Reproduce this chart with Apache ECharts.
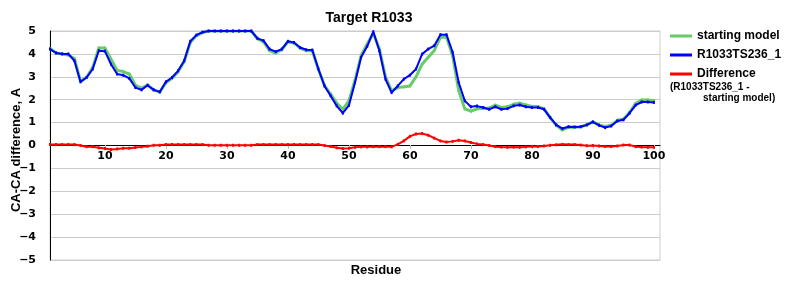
<!DOCTYPE html>
<html>
<head>
<meta charset="utf-8">
<script src="https://cdn.jsdelivr.net/npm/echarts@6/dist/echarts.min.js"></script>
<style>
html,body{margin:0;padding:0;background:#fff;}
#chart{width:800px;height:300px;}
</style>
</head>
<body>
<div id="chart"></div>
<script>
var title = 'Target R1033';
var xTicks = [10,20,30,40,50,60,70,80,90,100];
var startingModel = [4.24,4.04,4.0,3.95,3.8,2.8,2.98,3.4,4.26,4.26,
  3.77,3.28,3.23,3.12,2.63,2.5,2.64,2.43,2.33,2.74,
  2.93,3.22,3.66,4.5,4.8,4.93,5.0,5.0,5.0,5.0,
  5.0,5.0,5.0,5.0,4.66,4.52,4.14,4.04,4.18,4.53,
  4.48,4.25,4.14,4.14,3.32,2.62,2.24,1.85,1.58,1.95,
  2.85,3.93,4.43,4.9,4.21,3.0,2.39,2.53,2.56,2.6,
  3.0,3.55,3.85,4.15,4.72,4.74,3.93,2.4,1.6,1.5,
  1.6,1.63,1.63,1.76,1.66,1.69,1.8,1.85,1.77,1.7,
  1.7,1.6,1.22,0.88,0.68,0.8,0.8,0.82,0.9,1.03,
  0.9,0.83,0.88,1.1,1.15,1.44,1.83,1.99,1.99,1.96];
var model = [4.21,4.04,4.0,4.0,3.7,2.78,2.97,3.34,4.14,4.12,
  3.55,3.12,3.07,2.93,2.53,2.43,2.63,2.43,2.34,2.78,
  2.97,3.26,3.7,4.55,4.82,4.95,5.0,5.0,5.0,5.0,
  5.0,5.0,5.0,5.0,4.68,4.58,4.21,4.1,4.21,4.55,
  4.5,4.28,4.18,4.17,3.34,2.6,2.17,1.73,1.41,1.75,
  2.75,3.85,4.33,4.97,4.14,2.9,2.31,2.6,2.9,3.07,
  3.34,3.99,4.21,4.36,4.84,4.84,4.07,2.75,1.95,1.69,
  1.72,1.66,1.58,1.69,1.58,1.61,1.73,1.77,1.69,1.66,
  1.66,1.58,1.22,0.9,0.74,0.82,0.81,0.82,0.9,1.03,
  0.88,0.78,0.85,1.07,1.12,1.41,1.76,1.9,1.9,1.88];
var difference = [0.04,0.04,0.04,0.04,0.04,0.0,-0.05,-0.05,-0.1,-0.13,
  -0.17,-0.15,-0.12,-0.12,-0.09,-0.06,-0.03,0.01,0.01,0.04,
  0.04,0.04,0.04,0.04,0.04,0.04,0.01,0.01,0.01,0.01,
  0.01,0.01,0.01,0.01,0.04,0.04,0.04,0.04,0.04,0.04,
  0.04,0.04,0.04,0.04,0.04,0.0,-0.04,-0.1,-0.13,-0.12,
  -0.08,-0.06,-0.06,-0.05,-0.05,-0.05,-0.06,0.05,0.2,0.4,
  0.5,0.52,0.45,0.32,0.2,0.15,0.18,0.23,0.2,0.13,
  0.07,0.04,0.0,-0.05,-0.07,-0.08,-0.07,-0.08,-0.06,-0.04,
  -0.04,-0.02,0.01,0.03,0.05,0.04,0.04,0.02,-0.01,0.0,
  -0.02,-0.04,-0.04,-0.02,0.02,0.02,-0.05,-0.07,-0.08,-0.08];

function pairs(arr){ return arr.map(function(v,i){ return [i+1, v]; }); }

var chart = echarts.init(document.getElementById('chart'), null, {renderer:'canvas'});
var boldLab = {fontFamily:'DejaVu Sans', fontWeight:'bold', fontSize:11, color:'#000'};
function lineSeries(name, data, color, width, z){
  return {
    name:name, type:'line', data:pairs(data), z:z,
    symbol:'rect', symbolSize:[2,3], showSymbol:true,
    itemStyle:{color:color},
    lineStyle:{color:color, width:width},
    animation:false
  };
}
chart.setOption({
  animation:false,
  backgroundColor:'#fff',
  title:{text:title, left:364, top:6, textAlign:'center',
    textStyle:{fontFamily:'Liberation Sans', fontWeight:'bold', fontSize:14, color:'#000'}},
  grid:{left:50, right:140, top:31, bottom:40, show:true, borderColor:'#ccc', borderWidth:1, containLabel:false},
  legend:{orient:'vertical', left:665, top:25, itemWidth:22, itemHeight:3, itemGap:7, icon:'rect',
    data:['starting model','R1033TS236_1','Difference'],
    textStyle:{fontFamily:'Liberation Sans', fontWeight:'bold', fontSize:12, color:'#000'}},
  xAxis:{type:'value', min:1, max:101, offset:-115,
    axisLine:{onZero:false, lineStyle:{color:'#000', width:1}},
    axisTick:{show:true, customValues:xTicks, length:4, lineStyle:{color:'#bbb'}},
    axisLabel:Object.assign({customValues:xTicks, margin:6}, boldLab),
    splitLine:{show:false}},
  yAxis:{type:'value', min:-5, max:5, interval:1,
    axisLine:{show:true, onZero:false, lineStyle:{color:'#000', width:1}},
    axisTick:{show:false},
    axisLabel:Object.assign({margin:14, formatter:function(v){ return v<0 ? '\u2212'+(-v) : String(v); }}, boldLab),
    splitLine:{show:true, lineStyle:{color:'#ccc', width:1}}},
  graphic:[
    {type:'text', x:16, y:150, rotation:Math.PI/2,
      style:{text:'CA-CA difference, A', fontFamily:'Liberation Sans', fontWeight:'bold', fontSize:13, fill:'#000', align:'center', verticalAlign:'middle'}},
    {type:'text', x:376, y:270,
      style:{text:'Residue', fontFamily:'Liberation Sans', fontWeight:'bold', fontSize:13, fill:'#000', align:'center', verticalAlign:'middle'}},
    {type:'text', x:670, y:87,
      style:{text:'(R1033TS236_1 -', fontFamily:'Liberation Sans', fontWeight:'bold', fontSize:10, fill:'#000', align:'left', verticalAlign:'middle'}},
    {type:'text', x:703, y:98,
      style:{text:'starting model)', fontFamily:'Liberation Sans', fontWeight:'bold', fontSize:10, fill:'#000', align:'left', verticalAlign:'middle'}}
  ],
  series:[
    lineSeries('starting model', startingModel, '#66cc66', 3, 2),
    lineSeries('R1033TS236_1', model, '#0000ff', 2, 3),
    lineSeries('Difference', difference, '#ff0000', 2, 4)
  ]
});
</script>
</body>
</html>
